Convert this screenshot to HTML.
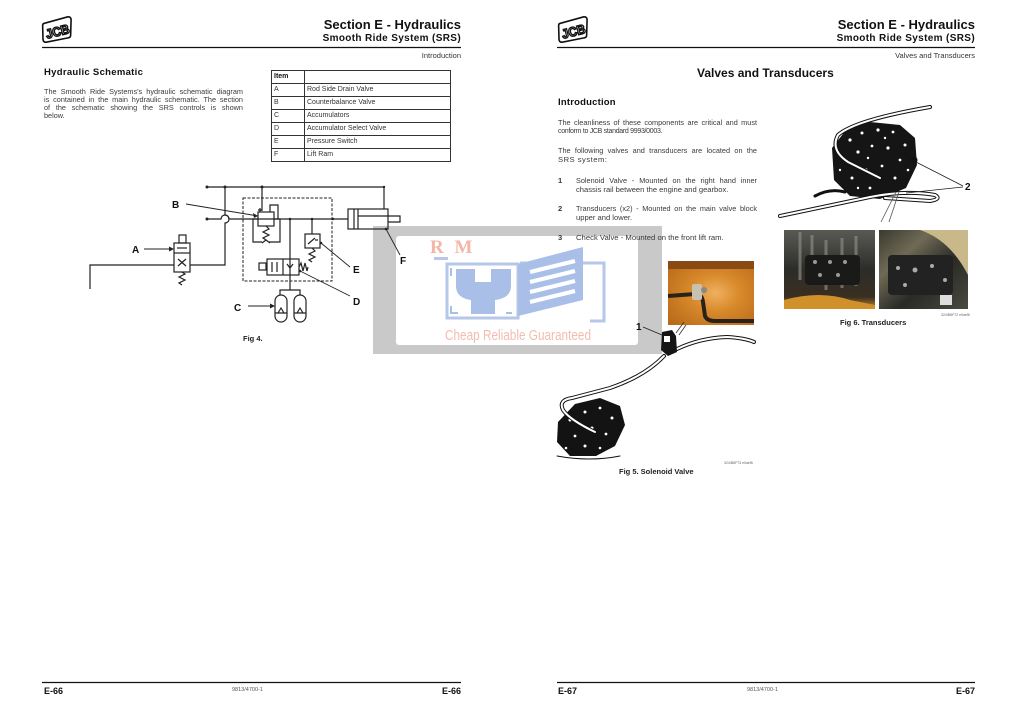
<!DOCTYPE html>
<html><head><meta charset="utf-8">
<style>
html,body{margin:0;padding:0;background:#fff;}
body{width:1022px;height:723px;position:relative;overflow:hidden;font-family:"Liberation Sans",Arial,sans-serif;color:#333;}
.a{position:absolute;white-space:nowrap;}
.h1{font-size:13px;font-weight:bold;color:#111;}
.h2{font-size:10px;font-weight:bold;color:#111;letter-spacing:0.35px;}
.sm{font-size:7.5px;color:#333;}
.l{position:absolute;font-size:7.3px;color:#3a3a3a;white-space:nowrap;text-align:justify;text-align-last:justify;height:9px;line-height:9px;}
.ll{position:absolute;font-size:7.6px;color:#3a3a3a;white-space:nowrap;line-height:9px;}
.foot{font-size:9px;font-weight:bold;color:#111;}
.code{font-size:5.5px;color:#555;}
table{border-collapse:collapse;}
td{border:1px solid #333;font-size:7px;color:#333;height:12px;padding:0 0 0 2px;vertical-align:middle;line-height:10px;}
</style></head>
<body>

<!-- watermark -->
<svg class="a" style="left:0;top:0;" width="1022" height="723" viewBox="0 0 1022 723">
  <rect x="373" y="226" width="289" height="128" fill="#c9c9c9"/>
  <rect x="396" y="236" width="242" height="109" rx="3" fill="#fff"/>
  <path d="M520 263 H604 V321 H590" fill="none" stroke="#b6c7ea" stroke-width="3"/>
  <path d="M447 264 H518 V318 H447 Z" fill="none" stroke="#b6c7ea" stroke-width="3"/>
  <path d="M451 268 V276 M451 306 V313 H458 M512 313 H506" fill="none" stroke="#a9bfe8" stroke-width="2"/>
  <rect x="434" y="257" width="14" height="3" fill="#b6c7ea"/>
  <path d="M456 269 h19 v13 h16 v-13 h20 v17 q0 12 -16 14 v14 h-24 v-14 q-15 -2 -15 -14 z" fill="#a9bfe8"/>
  <path d="M518 264 L583 247 L583 300 L518 316 Z" fill="#a9bfe8"/>
  <path d="M530 272 L575 261 M530 282 L575 271 M530 292 L575 281 M530 302 L575 291" stroke="#fff" stroke-width="4"/>
  <text x="430" y="253" font-family="Liberation Serif,serif" font-weight="bold" font-size="19" fill="#f3b6a6" letter-spacing="3">R M</text>
  <text x="445" y="340" font-family="Liberation Sans,sans-serif" font-size="15" fill="#f2bdb0" textLength="146" lengthAdjust="spacingAndGlyphs">Cheap Reliable Guaranteed</text>
</svg>

<svg class="a" style="left:0;top:0;" width="1022" height="723" viewBox="0 0 1022 723">
  <!-- JCB logos -->
  <g transform="translate(42,17)">
    <path d="M3 5 L27 1 Q30 1 30 4 L28 19 Q28 22 25 22 L3 24 Q0 24 0 21 L1 8 Q1 5 3 5Z" fill="#fff" stroke="#111" stroke-width="1.6" transform="rotate(-6 15 12)"/>
    <text x="3" y="19" font-family="Liberation Sans,sans-serif" font-weight="bold" font-size="13" fill="#fff" stroke="#111" stroke-width="1.4" transform="rotate(-14 15 12)" textLength="24" lengthAdjust="spacingAndGlyphs">JCB</text>
  </g>
  <g transform="translate(558,17)">
    <path d="M3 5 L27 1 Q30 1 30 4 L28 19 Q28 22 25 22 L3 24 Q0 24 0 21 L1 8 Q1 5 3 5Z" fill="#fff" stroke="#111" stroke-width="1.6" transform="rotate(-6 15 12)"/>
    <text x="3" y="19" font-family="Liberation Sans,sans-serif" font-weight="bold" font-size="13" fill="#fff" stroke="#111" stroke-width="1.4" transform="rotate(-14 15 12)" textLength="24" lengthAdjust="spacingAndGlyphs">JCB</text>
  </g>
  <line x1="42" y1="47.5" x2="461" y2="47.5" stroke="#111" stroke-width="1.2"/>
  <line x1="557" y1="47.5" x2="975" y2="47.5" stroke="#111" stroke-width="1.2"/>
  <line x1="42" y1="682.5" x2="461" y2="682.5" stroke="#111" stroke-width="1.2"/>
  <line x1="557" y1="682.5" x2="975" y2="682.5" stroke="#111" stroke-width="1.2"/>

  <!-- SCHEMATIC -->
  <g fill="none" stroke="#222" stroke-width="1.2">
    <path d="M207 187 H384 V209"/>
    <path d="M225 187 V215 A4 4 0 0 1 225 223 V265 H190"/>
    <path d="M207 219 H221 A4 4 0 0 1 229 219 H348"/>
    <path d="M262 187 V211"/>
    <rect x="243" y="198" width="89" height="83" stroke-dasharray="3 1.5" stroke-width="1"/>
    <rect x="258" y="212" width="16" height="14"/>
    <path d="M270 212 V205 H278 V219"/>
    <path d="M260 212 V208 M258 210 L262 210"/>
    <path d="M266 226 L269 229 L263 232 L269 235 L263 238 L266 240 M262 243 L266 240 L270 243"/>
    <path d="M258 219 H253 V242 H262 M274 219 H280 V242 H269"/>
    <path d="M312 219 V234"/>
    <rect x="305" y="234" width="15" height="14"/>
    <path d="M308 244 L315 238 M315 240 L318 240"/>
    <path d="M312 248 L315 251 L309 254 L315 257 L309 260 L312 262"/>
    <rect x="267" y="259" width="32" height="16"/>
    <path d="M283 259 V275"/>
    <rect x="259" y="263" width="7" height="7"/>
    <path d="M272 262 V272 M277 262 V272"/>
    <path d="M287 264 L290 268 L293 264"/>
    <path d="M299 267 L301 263 L303 271 L305 263 L307 271 L308 267"/>
    <path d="M290 219 V290 M280 295 V290 H300 V295"/>
    <rect x="275" y="295" width="12" height="27" rx="6"/>
    <rect x="294" y="295" width="12" height="27" rx="6"/>
    <path d="M275 313 H287 M278 313 L281 308 L284 313 M294 313 H306 M297 313 L300 308 L303 313"/>
    <rect x="174" y="243" width="16" height="29"/>
    <path d="M174 253 H190"/>
    <rect x="179" y="235" width="7" height="8"/>
    <path d="M177 248 H187"/>
    <path d="M178 259 L186 266 M186 259 L178 266"/>
    <path d="M182 272 L185 274 L179 277 L185 280 L179 283 L182 285"/>
    <path d="M174 265 H90 V289"/>
    <rect x="348" y="209" width="40" height="20"/>
    <path d="M354 209 V229 M358 209 V229"/>
    <path d="M358 216 H400 V222 H388"/>
    <path d="M186 204 L258 216" stroke-width="0.9"/>
    <path d="M144 249 H172" stroke-width="0.9"/>
    <path d="M248 306 H274" stroke-width="0.9"/>
    <path d="M350 267 L321 243" stroke-width="0.9"/>
    <path d="M350 296 L300 271" stroke-width="0.9"/>
    <path d="M400 255 L386 229" stroke-width="0.9"/>
  </g>
  <g fill="#222">
    <circle cx="207" cy="187" r="1.5"/><circle cx="225" cy="187" r="1.5"/><circle cx="262" cy="187" r="1.5"/>
    <circle cx="207" cy="219" r="1.5"/><circle cx="290" cy="219" r="1.3"/><circle cx="312" cy="219" r="1.3"/>
    <circle cx="333" cy="219" r="1.2"/><circle cx="384" cy="187" r="1.2"/>
    <path d="M258 216 L253 213 L254 218Z"/>
    <path d="M174 249 L169 246.5 L169 251.5Z"/>
    <path d="M275 306 L270 303.5 L270 308.5Z"/>
    <circle cx="321" cy="243" r="1.3"/><circle cx="300" cy="271" r="1.3"/><circle cx="386" cy="229" r="1.3"/>
  </g>
  <g font-family="Liberation Sans,sans-serif" font-weight="bold" font-size="10" fill="#111">
    <text x="172" y="208">B</text>
    <text x="132" y="253">A</text>
    <text x="234" y="311">C</text>
    <text x="353" y="305">D</text>
    <text x="353" y="273">E</text>
    <text x="400" y="264">F</text>
  </g>
  <text x="243" y="341" font-family="Liberation Sans,sans-serif" font-weight="bold" font-size="7.5" fill="#222">Fig 4.</text>

  <!-- FIG 6 drawing -->
  <g>
    <path d="M832 148 L846 130 L870 122 L900 125 L915 138 L917 165 L906 188 L880 199 L850 196 L834 180 Z" fill="#151515"/>
    <g fill="#fff">
      <circle cx="850" cy="140" r="1.6"/><circle cx="862" cy="133" r="1.5"/><circle cx="878" cy="130" r="1.6"/><circle cx="893" cy="132" r="1.4"/>
      <circle cx="905" cy="145" r="1.5"/><circle cx="845" cy="160" r="1.5"/><circle cx="858" cy="152" r="1.6"/><circle cx="872" cy="146" r="1.4"/>
      <circle cx="888" cy="148" r="1.6"/><circle cx="900" cy="160" r="1.4"/><circle cx="852" cy="178" r="1.5"/><circle cx="866" cy="170" r="1.6"/>
      <circle cx="882" cy="166" r="1.4"/><circle cx="895" cy="178" r="1.5"/><circle cx="870" cy="188" r="1.4"/><circle cx="908" cy="170" r="1.3"/>
      <circle cx="840" cy="170" r="1.2"/><circle cx="858" cy="188" r="1.2"/><circle cx="885" cy="138" r="1.2"/><circle cx="868" cy="158" r="1.2"/>
    </g>
    <circle cx="914" cy="160" r="3.5" fill="#111"/>
    <g fill="none" stroke-linecap="round">
      <path d="M930 107 Q855 120 838 135 Q830 150 848 162 L880 178" stroke="#111" stroke-width="4"/>
      <path d="M930 107 Q855 120 838 135 Q830 150 848 162 L880 178" stroke="#fff" stroke-width="2"/>
      <path d="M780 216 L870 197 Q905 190 935 195 Q942 199 930 201 L885 198" stroke="#111" stroke-width="4"/>
      <path d="M780 216 L870 197 Q905 190 935 195 Q942 199 930 201 L885 198" stroke="#fff" stroke-width="2"/>
      <path d="M815 196 Q830 188 845 192" stroke="#111" stroke-width="3"/>
    </g>
    <path d="M896 192 L881 222 M899 192 L889 222" stroke="#555" stroke-width="0.8"/>
    <path d="M963 186 L916 162 M963 187 L906 193" stroke="#222" stroke-width="0.8"/>
    <text x="965" y="190" font-family="Liberation Sans,sans-serif" font-weight="bold" font-size="10" fill="#111">2</text>
  </g>

  <defs>
    <linearGradient id="p1" x1="0" y1="0" x2="0" y2="1">
      <stop offset="0" stop-color="#5a5a55"/><stop offset="0.5" stop-color="#2c2c2a"/><stop offset="0.85" stop-color="#3a2f20"/><stop offset="1" stop-color="#c98a2a"/>
    </linearGradient>
    <linearGradient id="p2" x1="0" y1="0" x2="1" y2="1">
      <stop offset="0" stop-color="#3b3a30"/><stop offset="0.3" stop-color="#6e6a55"/><stop offset="0.6" stop-color="#2a2a26"/><stop offset="1" stop-color="#4a4a40"/>
    </linearGradient>
    <radialGradient id="or" cx="0.55" cy="0.5" r="0.7">
      <stop offset="0" stop-color="#f0b060"/><stop offset="0.4" stop-color="#d98a2c"/><stop offset="1" stop-color="#b86a18"/>
    </radialGradient>
  </defs>
  <rect x="784" y="230" width="91" height="79" fill="url(#p1)"/>
  <g stroke="#8a8a80" stroke-width="3" opacity="0.7">
    <path d="M800 232 V280 M812 235 V285 M826 240 V290 M842 238 V288 M856 236 V286"/>
  </g>
  <rect x="805" y="255" width="55" height="30" rx="4" fill="#1a1a18"/>
  <g fill="#999"><circle cx="815" cy="262" r="2"/><circle cx="830" cy="262" r="2"/><circle cx="845" cy="262" r="2"/><circle cx="820" cy="275" r="2"/><circle cx="838" cy="275" r="2"/></g>
  <path d="M784 300 Q820 290 850 300 L875 305 V309 H784Z" fill="#d0902c"/>
  <rect x="879" y="230" width="89" height="79" fill="url(#p2)"/>
  <path d="M920 230 H968 V275 Q950 240 920 230Z" fill="#c8b88a"/>
  <rect x="888" y="255" width="65" height="40" rx="4" fill="#222"/>
  <g fill="#aaa"><circle cx="898" cy="268" r="2"/><circle cx="915" cy="270" r="2.5"/><circle cx="932" cy="266" r="2"/><circle cx="945" cy="280" r="2"/><circle cx="905" cy="285" r="2"/></g>
  <rect x="940" y="295" width="12" height="10" fill="#ddd"/>

  <!-- FIG 5 -->
  <rect x="668" y="261" width="86" height="64" fill="url(#or)"/>
  <rect x="668" y="261" width="86" height="8" fill="#8a4a14"/>
  <path d="M668 296 L695 294 Q702 294 703 302 L705 316 Q707 321 715 321 L754 321" fill="none" stroke="#2a2218" stroke-width="4"/>
  <rect x="692" y="284" width="10" height="16" rx="2" fill="#c8c0b0"/>
  <circle cx="704" cy="290" r="3" fill="#888"/>

  <path d="M558 422 L575 404 L600 398 L620 406 L625 425 L615 446 L596 456 L570 456 L557 442 Z" fill="#131313"/>
  <g fill="#fff">
    <circle cx="570" cy="420" r="1.5"/><circle cx="585" cy="412" r="1.5"/><circle cx="600" cy="408" r="1.4"/><circle cx="612" cy="418" r="1.5"/>
    <circle cx="575" cy="436" r="1.4"/><circle cx="592" cy="428" r="1.5"/><circle cx="606" cy="434" r="1.4"/><circle cx="585" cy="446" r="1.5"/>
    <circle cx="600" cy="448" r="1.3"/><circle cx="566" cy="448" r="1.3"/>
  </g>
  <g fill="none" stroke-linecap="round">
    <path d="M595 432 Q570 420 563 410 Q558 400 572 398 L610 388 Q645 376 664 356" stroke="#111" stroke-width="4"/>
    <path d="M595 432 Q570 420 563 410 Q558 400 572 398 L610 388 Q645 376 664 356" stroke="#fff" stroke-width="2"/>
    <path d="M677 349 Q700 338 727 337 Q745 338 754 342" stroke="#111" stroke-width="4"/>
    <path d="M677 349 Q700 338 727 337 Q745 338 754 342" stroke="#fff" stroke-width="2"/>
    <path d="M557 456 Q590 462 620 456" stroke="#111" stroke-width="1"/>
  </g>
  <path d="M662 332 L672 330 L676 336 L677 352 L668 356 L661 350 Z" fill="#151515"/>
  <rect x="664" y="336" width="6" height="6" fill="#fff"/>
  <path d="M676 333 L684 322 M679 335 L686 325" stroke="#333" stroke-width="0.8"/>
  <path d="M643 327 L662 335" stroke="#222" stroke-width="0.9"/>
  <text x="636" y="330" font-family="Liberation Sans,sans-serif" font-weight="bold" font-size="10" fill="#111">1</text>
</svg>

<!-- LEFT PAGE TEXT -->
<div class="a h1" style="right:561px;top:17px;">Section E - Hydraulics</div>
<div class="a h2" style="right:561px;top:33px;">Smooth Ride System (SRS)</div>
<div class="a sm" style="right:561px;top:51px;">Introduction</div>
<div class="a" style="left:44px;top:67px;font-size:9.5px;font-weight:bold;color:#111;letter-spacing:0.3px;">Hydraulic Schematic</div>
<div class="l" style="left:44px;top:87px;width:199px;">The Smooth Ride Systems's hydraulic schematic diagram</div>
<div class="l" style="left:44px;top:95px;width:199px;">is contained in the main hydraulic schematic. The section</div>
<div class="l" style="left:44px;top:103px;width:199px;">of the schematic showing the SRS controls is shown</div>
<div class="ll" style="left:44px;top:111px;font-size:7.3px;">below.</div>

<table class="a" style="left:271px;top:70px;width:180px;">
  <tr><td style="width:30px;font-weight:bold;color:#111;">Item</td><td></td></tr>
  <tr><td>A</td><td>Rod Side Drain Valve</td></tr>
  <tr><td>B</td><td>Counterbalance Valve</td></tr>
  <tr><td>C</td><td>Accumulators</td></tr>
  <tr><td>D</td><td>Accumulator Select Valve</td></tr>
  <tr><td>E</td><td>Pressure Switch</td></tr>
  <tr><td>F</td><td>Lift Ram</td></tr>
</table>

<div class="a foot" style="left:44px;top:686px;">E-66</div>
<div class="a code" style="left:232px;top:687px;">9813/4700-1</div>
<div class="a foot" style="right:561px;top:686px;">E-66</div>

<!-- RIGHT PAGE TEXT -->
<div class="a h1" style="right:47px;top:17px;">Section E - Hydraulics</div>
<div class="a h2" style="right:47px;top:33px;">Smooth Ride System (SRS)</div>
<div class="a sm" style="right:47px;top:51px;">Valves and Transducers</div>
<div class="a" style="left:697px;top:66px;font-size:12px;font-weight:bold;color:#111;">Valves and Transducers</div>
<div class="a" style="left:558px;top:97px;font-size:9.5px;font-weight:bold;color:#111;letter-spacing:0.2px;">Introduction</div>

<div class="l" style="left:558px;top:118px;width:199px;">The cleanliness of these components are critical and must</div>
<div class="ll" style="left:558px;top:127px;font-size:7px;letter-spacing:-0.3px;">conform to JCB standard 9993/0003.</div>
<div class="l" style="left:558px;top:146px;width:199px;">The following valves and transducers are located on the</div>
<div class="ll" style="left:558px;top:155px;letter-spacing:0.5px;">SRS system:</div>

<div class="ll" style="left:558px;top:176px;font-weight:bold;">1</div>
<div class="l" style="left:576px;top:176px;width:181px;">Solenoid Valve - Mounted on the right hand inner</div>
<div class="ll" style="left:576px;top:185px;">chassis rail between the engine and gearbox.</div>
<div class="ll" style="left:558px;top:204px;font-weight:bold;">2</div>
<div class="l" style="left:576px;top:204px;width:181px;">Transducers (x2) - Mounted on the main valve block</div>
<div class="ll" style="left:576px;top:213px;">upper and lower.</div>
<div class="ll" style="left:558px;top:233px;font-weight:bold;">3</div>
<div class="ll" style="left:576px;top:233px;font-size:7.7px;">Check Valve - Mounted on the front lift ram.</div>

<div class="a" style="left:840px;top:318px;font-size:7.5px;font-weight:bold;color:#222;">Fig 6. Transducers</div>
<div class="a" style="left:941px;top:313px;font-size:3.5px;color:#666;">324/B8F72 e0aef6</div>
<div class="a" style="left:619px;top:467px;font-size:7.5px;font-weight:bold;color:#222;">Fig 5. Solenoid Valve</div>
<div class="a" style="left:724px;top:461px;font-size:3.5px;color:#666;">324/B8F73 e0aef6</div>

<div class="a foot" style="left:558px;top:686px;">E-67</div>
<div class="a code" style="left:747px;top:687px;">9813/4700-1</div>
<div class="a foot" style="right:47px;top:686px;">E-67</div>

</body></html>
